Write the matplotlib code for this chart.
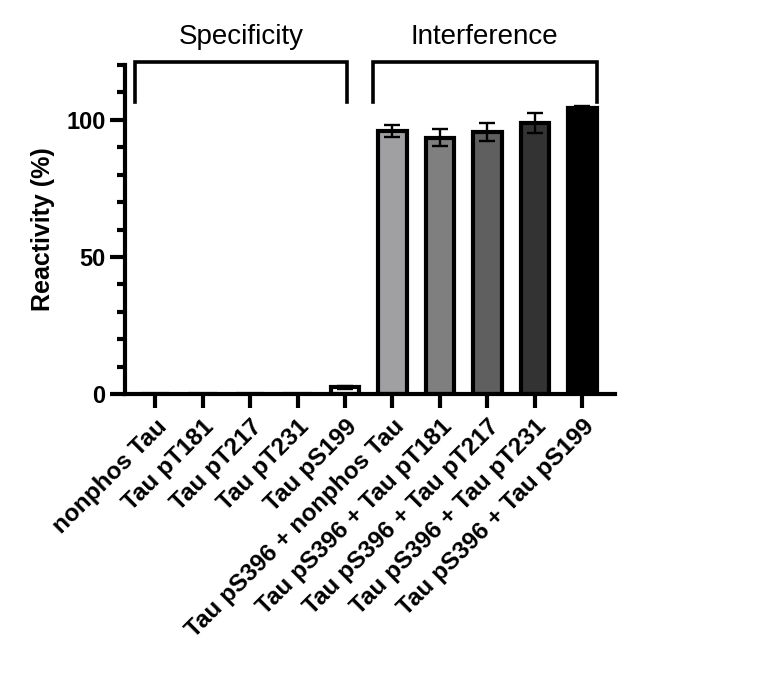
import matplotlib
matplotlib.use("Agg")
import matplotlib.pyplot as plt
import numpy as np
from matplotlib.ticker import MultipleLocator

plt.rcParams['font.family'] = ['Liberation Sans', 'DejaVu Sans']

labels = ["nonphos Tau", "Tau pT181", "Tau pT217", "Tau pT231", "Tau pS199",
          "Tau pS396 + nonphos Tau", "Tau pS396 + Tau pT181",
          "Tau pS396 + Tau pT217", "Tau pS396 + Tau pT231",
          "Tau pS396 + Tau pS199"]
values = [0, 0, 0, 0, 2.5, 96.0, 93.5, 95.5, 98.7, 104.2]
errors = [0, 0, 0, 0, 0.5, 2.2, 3.0, 3.2, 3.6, 0.8]
colors = ["white"] * 5 + ["#a0a0a2", "#7f7f7f", "#5f5f5f", "#333333", "#000000"]

fig = plt.figure(figsize=(7.68, 6.75), dpi=100)
ax = fig.add_axes([0.163, 0.416, 0.638, 0.488])

x = np.arange(len(labels))
ax.bar(x, values, width=0.6, color=colors, edgecolor="black", linewidth=3, zorder=2)
ax.errorbar(x[4:], values[4:], yerr=errors[4:], fmt="none", ecolor="black",
            elinewidth=1.7, capsize=6, capthick=1.7, zorder=3)

ax.set_xlim(-0.63, 9.69)
ax.set_ylim(0, 120)
ax.yaxis.set_major_locator(MultipleLocator(50))
ax.yaxis.set_minor_locator(MultipleLocator(10))
ax.set_xticks(x)
ax.set_xticklabels(labels, rotation=45, ha="right", rotation_mode="anchor",
                   fontsize=17.5, fontweight="bold")
for t in ax.get_yticklabels():
    t.set_fontsize(17)
    t.set_fontweight("bold")
ax.tick_params(axis="x", which="major", width=3, length=10, pad=5)
ax.tick_params(axis="y", which="major", width=3, length=11, pad=3)
ax.tick_params(axis="y", which="minor", width=3, length=5.5)
ax.set_ylabel("Reactivity (%)", fontsize=18, fontweight="bold", labelpad=8)

for s in ["top", "right"]:
    ax.spines[s].set_visible(False)
for s in ["left", "bottom"]:
    ax.spines[s].set_linewidth(3)

# group brackets
brackets = [(-0.42, 4.05, "Specificity"), (4.58, 9.3, "Interference")]
for x0, x1, name in brackets:
    ax.plot([x0, x0, x1, x1], [106.6, 121.2, 121.2, 106.6], color="black",
            linewidth=2.6, clip_on=False, solid_joinstyle="miter")
    ax.text((x0 + x1) / 2, 125.5, name, ha="center", va="bottom", fontsize=20)

fig.savefig("out.png", dpi=100)
